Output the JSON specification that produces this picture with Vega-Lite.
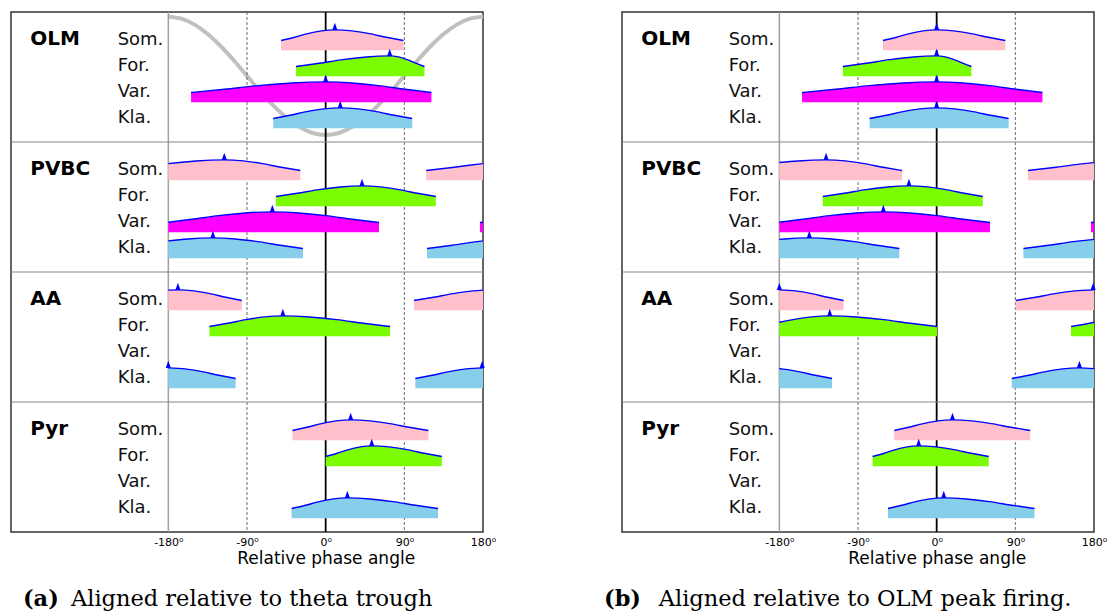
{
  "$schema": "https://vega.github.io/schema/vega-lite/v6.json",
  "padding": {"left": 9, "top": 7, "right": 0, "bottom": 0},
  "background": "white",
  "spacing": 139,
  "bounds": "flush",
  "config": {"view": {"stroke": "#333333", "strokeWidth": 1.5}, "font": "DejaVu Sans"},
  "datasets": {
    "one": [{}],
    "labels": [
      {"cell": "OLM", "sub": "Som."}, {"cell": "OLM", "sub": "For."}, {"cell": "OLM", "sub": "Var."}, {"cell": "OLM", "sub": "Kla."},
      {"cell": "PVBC", "sub": "Som."}, {"cell": "PVBC", "sub": "For."}, {"cell": "PVBC", "sub": "Var."}, {"cell": "PVBC", "sub": "Kla."},
      {"cell": "AA", "sub": "Som."}, {"cell": "AA", "sub": "For."}, {"cell": "AA", "sub": "Var."}, {"cell": "AA", "sub": "Kla."},
      {"cell": "Pyr", "sub": "Som."}, {"cell": "Pyr", "sub": "For."}, {"cell": "Pyr", "sub": "Var."}, {"cell": "Pyr", "sub": "Kla."}
    ],
    "theta": [
      {"angle": -180, "lfp": 1}, {"angle": -165, "lfp": 0.966}, {"angle": -150, "lfp": 0.866}, {"angle": -135, "lfp": 0.707},
      {"angle": -120, "lfp": 0.5}, {"angle": -105, "lfp": 0.259}, {"angle": -90, "lfp": 0}, {"angle": -75, "lfp": -0.259},
      {"angle": -60, "lfp": -0.5}, {"angle": -45, "lfp": -0.707}, {"angle": -30, "lfp": -0.866}, {"angle": -15, "lfp": -0.966},
      {"angle": 0, "lfp": -1}, {"angle": 15, "lfp": -0.966}, {"angle": 30, "lfp": -0.866}, {"angle": 45, "lfp": -0.707},
      {"angle": 60, "lfp": -0.5}, {"angle": 75, "lfp": -0.259}, {"angle": 90, "lfp": 0}, {"angle": 105, "lfp": 0.259},
      {"angle": 120, "lfp": 0.5}, {"angle": 135, "lfp": 0.707}, {"angle": 150, "lfp": 0.866}, {"angle": 165, "lfp": 0.966},
      {"angle": 180, "lfp": 1}
    ],
    "peaks": [
      {"panel": "a", "cell": "OLM", "sub": "Som.", "angle": 10.5, "rate": 0.781},
      {"panel": "a", "cell": "OLM", "sub": "For.", "angle": 73.3, "rate": 0.781},
      {"panel": "a", "cell": "OLM", "sub": "Var.", "angle": 0, "rate": 0.781},
      {"panel": "a", "cell": "OLM", "sub": "Kla.", "angle": 16.7, "rate": 0.781},
      {"panel": "a", "cell": "PVBC", "sub": "Som.", "angle": -116, "rate": 0.781},
      {"panel": "a", "cell": "PVBC", "sub": "For.", "angle": 41.6, "rate": 0.781},
      {"panel": "a", "cell": "PVBC", "sub": "Var.", "angle": -61, "rate": 0.781},
      {"panel": "a", "cell": "PVBC", "sub": "Kla.", "angle": -129, "rate": 0.781},
      {"panel": "a", "cell": "AA", "sub": "Som.", "angle": -169, "rate": 0.781},
      {"panel": "a", "cell": "AA", "sub": "For.", "angle": -49, "rate": 0.781},
      {"panel": "a", "cell": "AA", "sub": "Kla.", "angle": -180, "rate": 0.781},
      {"panel": "a", "cell": "AA", "sub": "Kla.", "angle": 179, "rate": 0.781},
      {"panel": "a", "cell": "Pyr", "sub": "Som.", "angle": 28.6, "rate": 0.781},
      {"panel": "a", "cell": "Pyr", "sub": "For.", "angle": 52.7, "rate": 0.781},
      {"panel": "a", "cell": "Pyr", "sub": "Kla.", "angle": 24.8, "rate": 0.781},
      {"panel": "b", "cell": "OLM", "sub": "Som.", "angle": 0, "rate": 0.781},
      {"panel": "b", "cell": "OLM", "sub": "For.", "angle": 0, "rate": 0.781},
      {"panel": "b", "cell": "OLM", "sub": "Var.", "angle": 0, "rate": 0.781},
      {"panel": "b", "cell": "OLM", "sub": "Kla.", "angle": 0, "rate": 0.781},
      {"panel": "b", "cell": "PVBC", "sub": "Som.", "angle": -126.5, "rate": 0.781},
      {"panel": "b", "cell": "PVBC", "sub": "For.", "angle": -31.7, "rate": 0.781},
      {"panel": "b", "cell": "PVBC", "sub": "Var.", "angle": -61, "rate": 0.781},
      {"panel": "b", "cell": "PVBC", "sub": "Kla.", "angle": -145.7, "rate": 0.781},
      {"panel": "b", "cell": "AA", "sub": "Som.", "angle": -180, "rate": 0.781},
      {"panel": "b", "cell": "AA", "sub": "Som.", "angle": 179, "rate": 0.781},
      {"panel": "b", "cell": "AA", "sub": "For.", "angle": -122.3, "rate": 0.781},
      {"panel": "b", "cell": "AA", "sub": "Kla.", "angle": 163.3, "rate": 0.781},
      {"panel": "b", "cell": "Pyr", "sub": "Som.", "angle": 18.1, "rate": 0.781},
      {"panel": "b", "cell": "Pyr", "sub": "For.", "angle": -20.6, "rate": 0.781},
      {"panel": "b", "cell": "Pyr", "sub": "Kla.", "angle": 8.1, "rate": 0.781}
    ],
    "curves": [
      {"panel": "a", "cell": "OLM", "sub": "Som.", "seg": 1, "angle": -51, "rate": 0.373},
      {"panel": "a", "cell": "OLM", "sub": "Som.", "seg": 1, "angle": -35.6, "rate": 0.5},
      {"panel": "a", "cell": "OLM", "sub": "Som.", "seg": 1, "angle": -20.3, "rate": 0.638},
      {"panel": "a", "cell": "OLM", "sub": "Som.", "seg": 1, "angle": -4.9, "rate": 0.742},
      {"panel": "a", "cell": "OLM", "sub": "Som.", "seg": 1, "angle": 10.5, "rate": 0.781},
      {"panel": "a", "cell": "OLM", "sub": "Som.", "seg": 1, "angle": 30.1, "rate": 0.742},
      {"panel": "a", "cell": "OLM", "sub": "Som.", "seg": 1, "angle": 49.8, "rate": 0.638},
      {"panel": "a", "cell": "OLM", "sub": "Som.", "seg": 1, "angle": 69.4, "rate": 0.5},
      {"panel": "a", "cell": "OLM", "sub": "Som.", "seg": 1, "angle": 89, "rate": 0.373},
      {"panel": "a", "cell": "OLM", "sub": "For.", "seg": 1, "angle": -34, "rate": 0.373},
      {"panel": "a", "cell": "OLM", "sub": "For.", "seg": 1, "angle": -7.2, "rate": 0.5},
      {"panel": "a", "cell": "OLM", "sub": "For.", "seg": 1, "angle": 19.7, "rate": 0.638},
      {"panel": "a", "cell": "OLM", "sub": "For.", "seg": 1, "angle": 46.5, "rate": 0.742},
      {"panel": "a", "cell": "OLM", "sub": "For.", "seg": 1, "angle": 73.3, "rate": 0.781},
      {"panel": "a", "cell": "OLM", "sub": "For.", "seg": 1, "angle": 83.2, "rate": 0.742},
      {"panel": "a", "cell": "OLM", "sub": "For.", "seg": 1, "angle": 93.2, "rate": 0.638},
      {"panel": "a", "cell": "OLM", "sub": "For.", "seg": 1, "angle": 103.1, "rate": 0.5},
      {"panel": "a", "cell": "OLM", "sub": "For.", "seg": 1, "angle": 113, "rate": 0.373},
      {"panel": "a", "cell": "OLM", "sub": "Var.", "seg": 1, "angle": -154, "rate": 0.373},
      {"panel": "a", "cell": "OLM", "sub": "Var.", "seg": 1, "angle": -115.5, "rate": 0.5},
      {"panel": "a", "cell": "OLM", "sub": "Var.", "seg": 1, "angle": -77, "rate": 0.638},
      {"panel": "a", "cell": "OLM", "sub": "Var.", "seg": 1, "angle": -38.5, "rate": 0.742},
      {"panel": "a", "cell": "OLM", "sub": "Var.", "seg": 1, "angle": 0, "rate": 0.781},
      {"panel": "a", "cell": "OLM", "sub": "Var.", "seg": 1, "angle": 30.3, "rate": 0.742},
      {"panel": "a", "cell": "OLM", "sub": "Var.", "seg": 1, "angle": 60.5, "rate": 0.638},
      {"panel": "a", "cell": "OLM", "sub": "Var.", "seg": 1, "angle": 90.8, "rate": 0.5},
      {"panel": "a", "cell": "OLM", "sub": "Var.", "seg": 1, "angle": 121, "rate": 0.373},
      {"panel": "a", "cell": "OLM", "sub": "Kla.", "seg": 1, "angle": -60, "rate": 0.373},
      {"panel": "a", "cell": "OLM", "sub": "Kla.", "seg": 1, "angle": -40.8, "rate": 0.5},
      {"panel": "a", "cell": "OLM", "sub": "Kla.", "seg": 1, "angle": -21.7, "rate": 0.638},
      {"panel": "a", "cell": "OLM", "sub": "Kla.", "seg": 1, "angle": -2.5, "rate": 0.742},
      {"panel": "a", "cell": "OLM", "sub": "Kla.", "seg": 1, "angle": 16.7, "rate": 0.781},
      {"panel": "a", "cell": "OLM", "sub": "Kla.", "seg": 1, "angle": 37.3, "rate": 0.742},
      {"panel": "a", "cell": "OLM", "sub": "Kla.", "seg": 1, "angle": 57.9, "rate": 0.638},
      {"panel": "a", "cell": "OLM", "sub": "Kla.", "seg": 1, "angle": 78.4, "rate": 0.5},
      {"panel": "a", "cell": "OLM", "sub": "Kla.", "seg": 1, "angle": 99, "rate": 0.373},
      {"panel": "a", "cell": "PVBC", "sub": "Som.", "seg": 2, "angle": 115, "rate": 0.373},
      {"panel": "a", "cell": "PVBC", "sub": "Som.", "seg": 2, "angle": 147.3, "rate": 0.5},
      {"panel": "a", "cell": "PVBC", "sub": "Som.", "seg": 2, "angle": 179.5, "rate": 0.638},
      {"panel": "a", "cell": "PVBC", "sub": "Som.", "seg": 2, "angle": 180, "rate": 0.64},
      {"panel": "a", "cell": "PVBC", "sub": "Som.", "seg": 1, "angle": -180, "rate": 0.64},
      {"panel": "a", "cell": "PVBC", "sub": "Som.", "seg": 1, "angle": -148.3, "rate": 0.742},
      {"panel": "a", "cell": "PVBC", "sub": "Som.", "seg": 1, "angle": -116, "rate": 0.781},
      {"panel": "a", "cell": "PVBC", "sub": "Som.", "seg": 1, "angle": -94.3, "rate": 0.742},
      {"panel": "a", "cell": "PVBC", "sub": "Som.", "seg": 1, "angle": -72.5, "rate": 0.638},
      {"panel": "a", "cell": "PVBC", "sub": "Som.", "seg": 1, "angle": -50.8, "rate": 0.5},
      {"panel": "a", "cell": "PVBC", "sub": "Som.", "seg": 1, "angle": -29, "rate": 0.373},
      {"panel": "a", "cell": "PVBC", "sub": "For.", "seg": 1, "angle": -57, "rate": 0.373},
      {"panel": "a", "cell": "PVBC", "sub": "For.", "seg": 1, "angle": -32.4, "rate": 0.5},
      {"panel": "a", "cell": "PVBC", "sub": "For.", "seg": 1, "angle": -7.7, "rate": 0.638},
      {"panel": "a", "cell": "PVBC", "sub": "For.", "seg": 1, "angle": 17, "rate": 0.742},
      {"panel": "a", "cell": "PVBC", "sub": "For.", "seg": 1, "angle": 41.6, "rate": 0.781},
      {"panel": "a", "cell": "PVBC", "sub": "For.", "seg": 1, "angle": 62.7, "rate": 0.742},
      {"panel": "a", "cell": "PVBC", "sub": "For.", "seg": 1, "angle": 83.8, "rate": 0.638},
      {"panel": "a", "cell": "PVBC", "sub": "For.", "seg": 1, "angle": 104.9, "rate": 0.5},
      {"panel": "a", "cell": "PVBC", "sub": "For.", "seg": 1, "angle": 126, "rate": 0.373},
      {"panel": "a", "cell": "PVBC", "sub": "Var.", "seg": 2, "angle": 176.5, "rate": 0.373},
      {"panel": "a", "cell": "PVBC", "sub": "Var.", "seg": 2, "angle": 180, "rate": 0.386},
      {"panel": "a", "cell": "PVBC", "sub": "Var.", "seg": 1, "angle": -180, "rate": 0.386},
      {"panel": "a", "cell": "PVBC", "sub": "Var.", "seg": 1, "angle": -152.9, "rate": 0.5},
      {"panel": "a", "cell": "PVBC", "sub": "Var.", "seg": 1, "angle": -122.3, "rate": 0.638},
      {"panel": "a", "cell": "PVBC", "sub": "Var.", "seg": 1, "angle": -91.6, "rate": 0.742},
      {"panel": "a", "cell": "PVBC", "sub": "Var.", "seg": 1, "angle": -61, "rate": 0.781},
      {"panel": "a", "cell": "PVBC", "sub": "Var.", "seg": 1, "angle": -30.5, "rate": 0.742},
      {"panel": "a", "cell": "PVBC", "sub": "Var.", "seg": 1, "angle": 0, "rate": 0.638},
      {"panel": "a", "cell": "PVBC", "sub": "Var.", "seg": 1, "angle": 30.5, "rate": 0.5},
      {"panel": "a", "cell": "PVBC", "sub": "Var.", "seg": 1, "angle": 61, "rate": 0.373},
      {"panel": "a", "cell": "PVBC", "sub": "Kla.", "seg": 2, "angle": 116, "rate": 0.373},
      {"panel": "a", "cell": "PVBC", "sub": "Kla.", "seg": 2, "angle": 144.8, "rate": 0.5},
      {"panel": "a", "cell": "PVBC", "sub": "Kla.", "seg": 2, "angle": 173.5, "rate": 0.638},
      {"panel": "a", "cell": "PVBC", "sub": "Kla.", "seg": 2, "angle": 180, "rate": 0.666},
      {"panel": "a", "cell": "PVBC", "sub": "Kla.", "seg": 1, "angle": -180, "rate": 0.666},
      {"panel": "a", "cell": "PVBC", "sub": "Kla.", "seg": 1, "angle": -157.8, "rate": 0.742},
      {"panel": "a", "cell": "PVBC", "sub": "Kla.", "seg": 1, "angle": -129, "rate": 0.781},
      {"panel": "a", "cell": "PVBC", "sub": "Kla.", "seg": 1, "angle": -103.3, "rate": 0.742},
      {"panel": "a", "cell": "PVBC", "sub": "Kla.", "seg": 1, "angle": -77.5, "rate": 0.638},
      {"panel": "a", "cell": "PVBC", "sub": "Kla.", "seg": 1, "angle": -51.8, "rate": 0.5},
      {"panel": "a", "cell": "PVBC", "sub": "Kla.", "seg": 1, "angle": -26, "rate": 0.373},
      {"panel": "a", "cell": "AA", "sub": "Som.", "seg": 2, "angle": 101, "rate": 0.373},
      {"panel": "a", "cell": "AA", "sub": "Som.", "seg": 2, "angle": 123.5, "rate": 0.5},
      {"panel": "a", "cell": "AA", "sub": "Som.", "seg": 2, "angle": 146, "rate": 0.638},
      {"panel": "a", "cell": "AA", "sub": "Som.", "seg": 2, "angle": 168.5, "rate": 0.742},
      {"panel": "a", "cell": "AA", "sub": "Som.", "seg": 2, "angle": 180, "rate": 0.772},
      {"panel": "a", "cell": "AA", "sub": "Som.", "seg": 1, "angle": -180, "rate": 0.772},
      {"panel": "a", "cell": "AA", "sub": "Som.", "seg": 1, "angle": -169, "rate": 0.781},
      {"panel": "a", "cell": "AA", "sub": "Som.", "seg": 1, "angle": -150.8, "rate": 0.742},
      {"panel": "a", "cell": "AA", "sub": "Som.", "seg": 1, "angle": -132.5, "rate": 0.638},
      {"panel": "a", "cell": "AA", "sub": "Som.", "seg": 1, "angle": -114.3, "rate": 0.5},
      {"panel": "a", "cell": "AA", "sub": "Som.", "seg": 1, "angle": -96, "rate": 0.373},
      {"panel": "a", "cell": "AA", "sub": "For.", "seg": 1, "angle": -133, "rate": 0.373},
      {"panel": "a", "cell": "AA", "sub": "For.", "seg": 1, "angle": -112, "rate": 0.5},
      {"panel": "a", "cell": "AA", "sub": "For.", "seg": 1, "angle": -91, "rate": 0.638},
      {"panel": "a", "cell": "AA", "sub": "For.", "seg": 1, "angle": -70, "rate": 0.742},
      {"panel": "a", "cell": "AA", "sub": "For.", "seg": 1, "angle": -49, "rate": 0.781},
      {"panel": "a", "cell": "AA", "sub": "For.", "seg": 1, "angle": -18.3, "rate": 0.742},
      {"panel": "a", "cell": "AA", "sub": "For.", "seg": 1, "angle": 12.4, "rate": 0.638},
      {"panel": "a", "cell": "AA", "sub": "For.", "seg": 1, "angle": 43, "rate": 0.5},
      {"panel": "a", "cell": "AA", "sub": "For.", "seg": 1, "angle": 73.7, "rate": 0.373},
      {"panel": "a", "cell": "AA", "sub": "Kla.", "seg": 2, "angle": 102.6, "rate": 0.373},
      {"panel": "a", "cell": "AA", "sub": "Kla.", "seg": 2, "angle": 122, "rate": 0.5},
      {"panel": "a", "cell": "AA", "sub": "Kla.", "seg": 2, "angle": 141.3, "rate": 0.638},
      {"panel": "a", "cell": "AA", "sub": "Kla.", "seg": 2, "angle": 160.7, "rate": 0.742},
      {"panel": "a", "cell": "AA", "sub": "Kla.", "seg": 2, "angle": 180, "rate": 0.781},
      {"panel": "a", "cell": "AA", "sub": "Kla.", "seg": 1, "angle": -180, "rate": 0.781},
      {"panel": "a", "cell": "AA", "sub": "Kla.", "seg": 1, "angle": -160.8, "rate": 0.742},
      {"panel": "a", "cell": "AA", "sub": "Kla.", "seg": 1, "angle": -141.5, "rate": 0.638},
      {"panel": "a", "cell": "AA", "sub": "Kla.", "seg": 1, "angle": -122.3, "rate": 0.5},
      {"panel": "a", "cell": "AA", "sub": "Kla.", "seg": 1, "angle": -103, "rate": 0.373},
      {"panel": "a", "cell": "Pyr", "sub": "Som.", "seg": 1, "angle": -38, "rate": 0.373},
      {"panel": "a", "cell": "Pyr", "sub": "Som.", "seg": 1, "angle": -21.4, "rate": 0.5},
      {"panel": "a", "cell": "Pyr", "sub": "Som.", "seg": 1, "angle": -4.7, "rate": 0.638},
      {"panel": "a", "cell": "Pyr", "sub": "Som.", "seg": 1, "angle": 11.9, "rate": 0.742},
      {"panel": "a", "cell": "Pyr", "sub": "Som.", "seg": 1, "angle": 28.6, "rate": 0.781},
      {"panel": "a", "cell": "Pyr", "sub": "Som.", "seg": 1, "angle": 50.8, "rate": 0.742},
      {"panel": "a", "cell": "Pyr", "sub": "Som.", "seg": 1, "angle": 73.1, "rate": 0.638},
      {"panel": "a", "cell": "Pyr", "sub": "Som.", "seg": 1, "angle": 95.3, "rate": 0.5},
      {"panel": "a", "cell": "Pyr", "sub": "Som.", "seg": 1, "angle": 117.5, "rate": 0.373},
      {"panel": "a", "cell": "Pyr", "sub": "For.", "seg": 1, "angle": 0, "rate": 0.373},
      {"panel": "a", "cell": "Pyr", "sub": "For.", "seg": 1, "angle": 13.2, "rate": 0.5},
      {"panel": "a", "cell": "Pyr", "sub": "For.", "seg": 1, "angle": 26.4, "rate": 0.638},
      {"panel": "a", "cell": "Pyr", "sub": "For.", "seg": 1, "angle": 39.5, "rate": 0.742},
      {"panel": "a", "cell": "Pyr", "sub": "For.", "seg": 1, "angle": 52.7, "rate": 0.781},
      {"panel": "a", "cell": "Pyr", "sub": "For.", "seg": 1, "angle": 72.7, "rate": 0.742},
      {"panel": "a", "cell": "Pyr", "sub": "For.", "seg": 1, "angle": 92.8, "rate": 0.638},
      {"panel": "a", "cell": "Pyr", "sub": "For.", "seg": 1, "angle": 112.8, "rate": 0.5},
      {"panel": "a", "cell": "Pyr", "sub": "For.", "seg": 1, "angle": 132.8, "rate": 0.373},
      {"panel": "a", "cell": "Pyr", "sub": "Kla.", "seg": 1, "angle": -39, "rate": 0.373},
      {"panel": "a", "cell": "Pyr", "sub": "Kla.", "seg": 1, "angle": -23.1, "rate": 0.5},
      {"panel": "a", "cell": "Pyr", "sub": "Kla.", "seg": 1, "angle": -7.2, "rate": 0.638},
      {"panel": "a", "cell": "Pyr", "sub": "Kla.", "seg": 1, "angle": 8.8, "rate": 0.742},
      {"panel": "a", "cell": "Pyr", "sub": "Kla.", "seg": 1, "angle": 24.8, "rate": 0.781},
      {"panel": "a", "cell": "Pyr", "sub": "Kla.", "seg": 1, "angle": 50.8, "rate": 0.742},
      {"panel": "a", "cell": "Pyr", "sub": "Kla.", "seg": 1, "angle": 76.7, "rate": 0.638},
      {"panel": "a", "cell": "Pyr", "sub": "Kla.", "seg": 1, "angle": 102.7, "rate": 0.5},
      {"panel": "a", "cell": "Pyr", "sub": "Kla.", "seg": 1, "angle": 128.6, "rate": 0.373},
      {"panel": "b", "cell": "OLM", "sub": "Som.", "seg": 1, "angle": -61.5, "rate": 0.373},
      {"panel": "b", "cell": "OLM", "sub": "Som.", "seg": 1, "angle": -46.1, "rate": 0.5},
      {"panel": "b", "cell": "OLM", "sub": "Som.", "seg": 1, "angle": -30.8, "rate": 0.638},
      {"panel": "b", "cell": "OLM", "sub": "Som.", "seg": 1, "angle": -15.4, "rate": 0.742},
      {"panel": "b", "cell": "OLM", "sub": "Som.", "seg": 1, "angle": 0, "rate": 0.781},
      {"panel": "b", "cell": "OLM", "sub": "Som.", "seg": 1, "angle": 19.6, "rate": 0.742},
      {"panel": "b", "cell": "OLM", "sub": "Som.", "seg": 1, "angle": 39.3, "rate": 0.638},
      {"panel": "b", "cell": "OLM", "sub": "Som.", "seg": 1, "angle": 58.9, "rate": 0.5},
      {"panel": "b", "cell": "OLM", "sub": "Som.", "seg": 1, "angle": 78.5, "rate": 0.373},
      {"panel": "b", "cell": "OLM", "sub": "For.", "seg": 1, "angle": -107.3, "rate": 0.373},
      {"panel": "b", "cell": "OLM", "sub": "For.", "seg": 1, "angle": -80.5, "rate": 0.5},
      {"panel": "b", "cell": "OLM", "sub": "For.", "seg": 1, "angle": -53.7, "rate": 0.638},
      {"panel": "b", "cell": "OLM", "sub": "For.", "seg": 1, "angle": -26.8, "rate": 0.742},
      {"panel": "b", "cell": "OLM", "sub": "For.", "seg": 1, "angle": 0, "rate": 0.781},
      {"panel": "b", "cell": "OLM", "sub": "For.", "seg": 1, "angle": 9.9, "rate": 0.742},
      {"panel": "b", "cell": "OLM", "sub": "For.", "seg": 1, "angle": 19.9, "rate": 0.638},
      {"panel": "b", "cell": "OLM", "sub": "For.", "seg": 1, "angle": 29.8, "rate": 0.5},
      {"panel": "b", "cell": "OLM", "sub": "For.", "seg": 1, "angle": 39.7, "rate": 0.373},
      {"panel": "b", "cell": "OLM", "sub": "Var.", "seg": 1, "angle": -154, "rate": 0.373},
      {"panel": "b", "cell": "OLM", "sub": "Var.", "seg": 1, "angle": -115.5, "rate": 0.5},
      {"panel": "b", "cell": "OLM", "sub": "Var.", "seg": 1, "angle": -77, "rate": 0.638},
      {"panel": "b", "cell": "OLM", "sub": "Var.", "seg": 1, "angle": -38.5, "rate": 0.742},
      {"panel": "b", "cell": "OLM", "sub": "Var.", "seg": 1, "angle": 0, "rate": 0.781},
      {"panel": "b", "cell": "OLM", "sub": "Var.", "seg": 1, "angle": 30.3, "rate": 0.742},
      {"panel": "b", "cell": "OLM", "sub": "Var.", "seg": 1, "angle": 60.5, "rate": 0.638},
      {"panel": "b", "cell": "OLM", "sub": "Var.", "seg": 1, "angle": 90.8, "rate": 0.5},
      {"panel": "b", "cell": "OLM", "sub": "Var.", "seg": 1, "angle": 121, "rate": 0.373},
      {"panel": "b", "cell": "OLM", "sub": "Kla.", "seg": 1, "angle": -76.7, "rate": 0.373},
      {"panel": "b", "cell": "OLM", "sub": "Kla.", "seg": 1, "angle": -57.5, "rate": 0.5},
      {"panel": "b", "cell": "OLM", "sub": "Kla.", "seg": 1, "angle": -38.4, "rate": 0.638},
      {"panel": "b", "cell": "OLM", "sub": "Kla.", "seg": 1, "angle": -19.2, "rate": 0.742},
      {"panel": "b", "cell": "OLM", "sub": "Kla.", "seg": 1, "angle": 0, "rate": 0.781},
      {"panel": "b", "cell": "OLM", "sub": "Kla.", "seg": 1, "angle": 20.6, "rate": 0.742},
      {"panel": "b", "cell": "OLM", "sub": "Kla.", "seg": 1, "angle": 41.2, "rate": 0.638},
      {"panel": "b", "cell": "OLM", "sub": "Kla.", "seg": 1, "angle": 61.7, "rate": 0.5},
      {"panel": "b", "cell": "OLM", "sub": "Kla.", "seg": 1, "angle": 82.3, "rate": 0.373},
      {"panel": "b", "cell": "PVBC", "sub": "Som.", "seg": 2, "angle": 104.5, "rate": 0.373},
      {"panel": "b", "cell": "PVBC", "sub": "Som.", "seg": 2, "angle": 136.8, "rate": 0.5},
      {"panel": "b", "cell": "PVBC", "sub": "Som.", "seg": 2, "angle": 169, "rate": 0.638},
      {"panel": "b", "cell": "PVBC", "sub": "Som.", "seg": 2, "angle": 180, "rate": 0.679},
      {"panel": "b", "cell": "PVBC", "sub": "Som.", "seg": 1, "angle": -180, "rate": 0.679},
      {"panel": "b", "cell": "PVBC", "sub": "Som.", "seg": 1, "angle": -158.8, "rate": 0.742},
      {"panel": "b", "cell": "PVBC", "sub": "Som.", "seg": 1, "angle": -126.5, "rate": 0.781},
      {"panel": "b", "cell": "PVBC", "sub": "Som.", "seg": 1, "angle": -104.8, "rate": 0.742},
      {"panel": "b", "cell": "PVBC", "sub": "Som.", "seg": 1, "angle": -83, "rate": 0.638},
      {"panel": "b", "cell": "PVBC", "sub": "Som.", "seg": 1, "angle": -61.3, "rate": 0.5},
      {"panel": "b", "cell": "PVBC", "sub": "Som.", "seg": 1, "angle": -39.5, "rate": 0.373},
      {"panel": "b", "cell": "PVBC", "sub": "For.", "seg": 1, "angle": -130.3, "rate": 0.373},
      {"panel": "b", "cell": "PVBC", "sub": "For.", "seg": 1, "angle": -105.7, "rate": 0.5},
      {"panel": "b", "cell": "PVBC", "sub": "For.", "seg": 1, "angle": -81, "rate": 0.638},
      {"panel": "b", "cell": "PVBC", "sub": "For.", "seg": 1, "angle": -56.4, "rate": 0.742},
      {"panel": "b", "cell": "PVBC", "sub": "For.", "seg": 1, "angle": -31.7, "rate": 0.781},
      {"panel": "b", "cell": "PVBC", "sub": "For.", "seg": 1, "angle": -10.6, "rate": 0.742},
      {"panel": "b", "cell": "PVBC", "sub": "For.", "seg": 1, "angle": 10.5, "rate": 0.638},
      {"panel": "b", "cell": "PVBC", "sub": "For.", "seg": 1, "angle": 31.6, "rate": 0.5},
      {"panel": "b", "cell": "PVBC", "sub": "For.", "seg": 1, "angle": 52.7, "rate": 0.373},
      {"panel": "b", "cell": "PVBC", "sub": "Var.", "seg": 2, "angle": 176.5, "rate": 0.373},
      {"panel": "b", "cell": "PVBC", "sub": "Var.", "seg": 2, "angle": 180, "rate": 0.386},
      {"panel": "b", "cell": "PVBC", "sub": "Var.", "seg": 1, "angle": -180, "rate": 0.386},
      {"panel": "b", "cell": "PVBC", "sub": "Var.", "seg": 1, "angle": -152.9, "rate": 0.5},
      {"panel": "b", "cell": "PVBC", "sub": "Var.", "seg": 1, "angle": -122.3, "rate": 0.638},
      {"panel": "b", "cell": "PVBC", "sub": "Var.", "seg": 1, "angle": -91.6, "rate": 0.742},
      {"panel": "b", "cell": "PVBC", "sub": "Var.", "seg": 1, "angle": -61, "rate": 0.781},
      {"panel": "b", "cell": "PVBC", "sub": "Var.", "seg": 1, "angle": -30.5, "rate": 0.742},
      {"panel": "b", "cell": "PVBC", "sub": "Var.", "seg": 1, "angle": 0, "rate": 0.638},
      {"panel": "b", "cell": "PVBC", "sub": "Var.", "seg": 1, "angle": 30.5, "rate": 0.5},
      {"panel": "b", "cell": "PVBC", "sub": "Var.", "seg": 1, "angle": 61, "rate": 0.373},
      {"panel": "b", "cell": "PVBC", "sub": "Kla.", "seg": 2, "angle": 99.3, "rate": 0.373},
      {"panel": "b", "cell": "PVBC", "sub": "Kla.", "seg": 2, "angle": 128.1, "rate": 0.5},
      {"panel": "b", "cell": "PVBC", "sub": "Kla.", "seg": 2, "angle": 156.8, "rate": 0.638},
      {"panel": "b", "cell": "PVBC", "sub": "Kla.", "seg": 2, "angle": 180, "rate": 0.726},
      {"panel": "b", "cell": "PVBC", "sub": "Kla.", "seg": 1, "angle": -180, "rate": 0.726},
      {"panel": "b", "cell": "PVBC", "sub": "Kla.", "seg": 1, "angle": -174.5, "rate": 0.742},
      {"panel": "b", "cell": "PVBC", "sub": "Kla.", "seg": 1, "angle": -145.7, "rate": 0.781},
      {"panel": "b", "cell": "PVBC", "sub": "Kla.", "seg": 1, "angle": -120, "rate": 0.742},
      {"panel": "b", "cell": "PVBC", "sub": "Kla.", "seg": 1, "angle": -94.2, "rate": 0.638},
      {"panel": "b", "cell": "PVBC", "sub": "Kla.", "seg": 1, "angle": -68.5, "rate": 0.5},
      {"panel": "b", "cell": "PVBC", "sub": "Kla.", "seg": 1, "angle": -42.7, "rate": 0.373},
      {"panel": "b", "cell": "AA", "sub": "Som.", "seg": 2, "angle": 90.5, "rate": 0.373},
      {"panel": "b", "cell": "AA", "sub": "Som.", "seg": 2, "angle": 113, "rate": 0.5},
      {"panel": "b", "cell": "AA", "sub": "Som.", "seg": 2, "angle": 135.5, "rate": 0.638},
      {"panel": "b", "cell": "AA", "sub": "Som.", "seg": 2, "angle": 158, "rate": 0.742},
      {"panel": "b", "cell": "AA", "sub": "Som.", "seg": 2, "angle": 180, "rate": 0.781},
      {"panel": "b", "cell": "AA", "sub": "Som.", "seg": 1, "angle": -180, "rate": 0.781},
      {"panel": "b", "cell": "AA", "sub": "Som.", "seg": 1, "angle": -161.3, "rate": 0.742},
      {"panel": "b", "cell": "AA", "sub": "Som.", "seg": 1, "angle": -143, "rate": 0.638},
      {"panel": "b", "cell": "AA", "sub": "Som.", "seg": 1, "angle": -124.8, "rate": 0.5},
      {"panel": "b", "cell": "AA", "sub": "Som.", "seg": 1, "angle": -106.5, "rate": 0.373},
      {"panel": "b", "cell": "AA", "sub": "For.", "seg": 2, "angle": 153.7, "rate": 0.373},
      {"panel": "b", "cell": "AA", "sub": "For.", "seg": 2, "angle": 174.7, "rate": 0.5},
      {"panel": "b", "cell": "AA", "sub": "For.", "seg": 2, "angle": 180, "rate": 0.536},
      {"panel": "b", "cell": "AA", "sub": "For.", "seg": 1, "angle": -180, "rate": 0.536},
      {"panel": "b", "cell": "AA", "sub": "For.", "seg": 1, "angle": -164.3, "rate": 0.638},
      {"panel": "b", "cell": "AA", "sub": "For.", "seg": 1, "angle": -143.3, "rate": 0.742},
      {"panel": "b", "cell": "AA", "sub": "For.", "seg": 1, "angle": -122.3, "rate": 0.781},
      {"panel": "b", "cell": "AA", "sub": "For.", "seg": 1, "angle": -91.6, "rate": 0.742},
      {"panel": "b", "cell": "AA", "sub": "For.", "seg": 1, "angle": -60.9, "rate": 0.638},
      {"panel": "b", "cell": "AA", "sub": "For.", "seg": 1, "angle": -30.3, "rate": 0.5},
      {"panel": "b", "cell": "AA", "sub": "For.", "seg": 1, "angle": 0.4, "rate": 0.373},
      {"panel": "b", "cell": "AA", "sub": "Kla.", "seg": 2, "angle": 85.9, "rate": 0.373},
      {"panel": "b", "cell": "AA", "sub": "Kla.", "seg": 2, "angle": 105.3, "rate": 0.5},
      {"panel": "b", "cell": "AA", "sub": "Kla.", "seg": 2, "angle": 124.6, "rate": 0.638},
      {"panel": "b", "cell": "AA", "sub": "Kla.", "seg": 2, "angle": 144, "rate": 0.742},
      {"panel": "b", "cell": "AA", "sub": "Kla.", "seg": 2, "angle": 163.3, "rate": 0.781},
      {"panel": "b", "cell": "AA", "sub": "Kla.", "seg": 2, "angle": 180, "rate": 0.752},
      {"panel": "b", "cell": "AA", "sub": "Kla.", "seg": 1, "angle": -180, "rate": 0.752},
      {"panel": "b", "cell": "AA", "sub": "Kla.", "seg": 1, "angle": -177.5, "rate": 0.742},
      {"panel": "b", "cell": "AA", "sub": "Kla.", "seg": 1, "angle": -158.2, "rate": 0.638},
      {"panel": "b", "cell": "AA", "sub": "Kla.", "seg": 1, "angle": -139, "rate": 0.5},
      {"panel": "b", "cell": "AA", "sub": "Kla.", "seg": 1, "angle": -119.7, "rate": 0.373},
      {"panel": "b", "cell": "Pyr", "sub": "Som.", "seg": 1, "angle": -48.5, "rate": 0.373},
      {"panel": "b", "cell": "Pyr", "sub": "Som.", "seg": 1, "angle": -31.9, "rate": 0.5},
      {"panel": "b", "cell": "Pyr", "sub": "Som.", "seg": 1, "angle": -15.2, "rate": 0.638},
      {"panel": "b", "cell": "Pyr", "sub": "Som.", "seg": 1, "angle": 1.4, "rate": 0.742},
      {"panel": "b", "cell": "Pyr", "sub": "Som.", "seg": 1, "angle": 18.1, "rate": 0.781},
      {"panel": "b", "cell": "Pyr", "sub": "Som.", "seg": 1, "angle": 40.3, "rate": 0.742},
      {"panel": "b", "cell": "Pyr", "sub": "Som.", "seg": 1, "angle": 62.6, "rate": 0.638},
      {"panel": "b", "cell": "Pyr", "sub": "Som.", "seg": 1, "angle": 84.8, "rate": 0.5},
      {"panel": "b", "cell": "Pyr", "sub": "Som.", "seg": 1, "angle": 107, "rate": 0.373},
      {"panel": "b", "cell": "Pyr", "sub": "For.", "seg": 1, "angle": -73.3, "rate": 0.373},
      {"panel": "b", "cell": "Pyr", "sub": "For.", "seg": 1, "angle": -60.1, "rate": 0.5},
      {"panel": "b", "cell": "Pyr", "sub": "For.", "seg": 1, "angle": -47, "rate": 0.638},
      {"panel": "b", "cell": "Pyr", "sub": "For.", "seg": 1, "angle": -33.8, "rate": 0.742},
      {"panel": "b", "cell": "Pyr", "sub": "For.", "seg": 1, "angle": -20.6, "rate": 0.781},
      {"panel": "b", "cell": "Pyr", "sub": "For.", "seg": 1, "angle": -0.6, "rate": 0.742},
      {"panel": "b", "cell": "Pyr", "sub": "For.", "seg": 1, "angle": 19.5, "rate": 0.638},
      {"panel": "b", "cell": "Pyr", "sub": "For.", "seg": 1, "angle": 39.5, "rate": 0.5},
      {"panel": "b", "cell": "Pyr", "sub": "For.", "seg": 1, "angle": 59.5, "rate": 0.373},
      {"panel": "b", "cell": "Pyr", "sub": "Kla.", "seg": 1, "angle": -55.7, "rate": 0.373},
      {"panel": "b", "cell": "Pyr", "sub": "Kla.", "seg": 1, "angle": -39.8, "rate": 0.5},
      {"panel": "b", "cell": "Pyr", "sub": "Kla.", "seg": 1, "angle": -23.8, "rate": 0.638},
      {"panel": "b", "cell": "Pyr", "sub": "Kla.", "seg": 1, "angle": -7.9, "rate": 0.742},
      {"panel": "b", "cell": "Pyr", "sub": "Kla.", "seg": 1, "angle": 8.1, "rate": 0.781},
      {"panel": "b", "cell": "Pyr", "sub": "Kla.", "seg": 1, "angle": 34.1, "rate": 0.742},
      {"panel": "b", "cell": "Pyr", "sub": "Kla.", "seg": 1, "angle": 60, "rate": 0.638},
      {"panel": "b", "cell": "Pyr", "sub": "Kla.", "seg": 1, "angle": 86, "rate": 0.5},
      {"panel": "b", "cell": "Pyr", "sub": "Kla.", "seg": 1, "angle": 111.9, "rate": 0.373}
    ]
  },
  "hconcat": [
    {
      "width": 472,
      "height": 520,
      "layer": [
        {
          "data": {"name": "curves"},
          "transform": [
            {"filter": "datum.panel == 'a'"},
            {"calculate": "indexof(['OLM','PVBC','AA','Pyr'], datum.cell) * 5 + 1.47 + indexof(['Som.','For.','Var.','Kla.'], datum.sub)", "as": "base"},
            {"calculate": "datum.base - datum.rate", "as": "top"}
          ],
          "mark": {"type": "area", "opacity": 0},
          "encoding": {
            "x": {"field": "angle", "type": "quantitative", "scale": {"domain": [-360, 180], "nice": false, "zero": false},
              "axis": {"values": [-180, -90, 0, 90, 180], "labelExpr": "datum.value + '\u2070'", "title": "Relative phase angle", "orient": "bottom", "grid": false, "ticks": false, "domain": false, "labelFont": "DejaVu Sans", "labelFontSize": 11, "labelColor": "#000000", "labelPadding": 4, "labelFlush": false, "labelOverlap": false, "titleFont": "DejaVu Sans", "titleFontSize": 17, "titleFontWeight": "normal", "titleColor": "#000000", "titlePadding": 3, "titleX": 314.7}},
            "y": {"field": "top", "type": "quantitative", "stack": null, "scale": {"domain": [0, 20], "reverse": true, "nice": false, "zero": false}, "axis": null},
            "y2": {"field": "base"},
            "detail": [{"field": "cell"}, {"field": "sub"}, {"field": "seg"}]
          }
        },
        {
          "data": {"name": "theta"},
          "transform": [{"calculate": "2.455 - 2.275 * datum.lfp", "as": "top"}],
          "mark": {"type": "line", "color": "#c0c0c0", "strokeWidth": 4, "interpolate": "monotone"},
          "encoding": {
            "x": {"field": "angle", "type": "quantitative"},
            "y": {"field": "top", "type": "quantitative", "axis": null}
          }
        },
        {"data": {"name": "one"}, "mark": {"type": "rule", "color": "#a0a0a0", "strokeWidth": 1.5}, "encoding": {"x": {"datum": -180}}},
        {"data": {"name": "one"}, "mark": {"type": "rule", "color": "#444444", "strokeWidth": 0.8, "strokeDash": [3, 2]}, "encoding": {"x": {"datum": -90}}},
        {"data": {"name": "one"}, "mark": {"type": "rule", "color": "#444444", "strokeWidth": 0.8, "strokeDash": [3, 2]}, "encoding": {"x": {"datum": 90}}},
        {"data": {"name": "one"}, "mark": {"type": "rule", "color": "#000000", "strokeWidth": 1.8}, "encoding": {"x": {"datum": 0}}},
        {
          "data": {"name": "labels"},
          "transform": [
            {"filter": "datum.sub == 'Som.' && datum.cell != 'OLM'"},
            {"calculate": "indexof(['OLM','PVBC','AA','Pyr'], datum.cell) * 5", "as": "top"}
          ],
          "mark": {"type": "rule", "color": "#888888", "strokeWidth": 1.2},
          "encoding": {"y": {"field": "top", "type": "quantitative", "axis": null}}
        },
        {
          "data": {"name": "curves"},
          "transform": [
            {"filter": "datum.panel == 'a'"},
            {"calculate": "indexof(['OLM','PVBC','AA','Pyr'], datum.cell) * 5 + 1.47 + indexof(['Som.','For.','Var.','Kla.'], datum.sub)", "as": "base"},
            {"calculate": "datum.base - datum.rate", "as": "top"}
          ],
          "mark": {"type": "area", "interpolate": "monotone", "opacity": 1},
          "encoding": {
            "x": {"field": "angle", "type": "quantitative"},
            "y": {"field": "top", "type": "quantitative", "stack": null, "axis": null},
            "y2": {"field": "base"},
            "color": {"field": "sub", "type": "nominal", "scale": {"domain": ["Som.", "For.", "Var.", "Kla."], "range": ["#FFC0CB", "#7CFC00", "#FF00FF", "#87CEEB"]}, "legend": null},
            "detail": [{"field": "cell"}, {"field": "seg"}]
          }
        },
        {
          "data": {"name": "curves"},
          "transform": [
            {"filter": "datum.panel == 'a'"},
            {"calculate": "indexof(['OLM','PVBC','AA','Pyr'], datum.cell) * 5 + 1.47 + indexof(['Som.','For.','Var.','Kla.'], datum.sub)", "as": "base"},
            {"calculate": "datum.base - datum.rate", "as": "top"}
          ],
          "mark": {"type": "line", "interpolate": "monotone", "color": "#0000FF", "strokeWidth": 1.4},
          "encoding": {
            "x": {"field": "angle", "type": "quantitative"},
            "y": {"field": "top", "type": "quantitative", "axis": null},
            "detail": [{"field": "cell"}, {"field": "sub"}, {"field": "seg"}]
          }
        },
        {
          "data": {"name": "peaks"},
          "transform": [
            {"filter": "datum.panel == 'a'"},
            {"calculate": "indexof(['OLM','PVBC','AA','Pyr'], datum.cell) * 5 + 1.47 + indexof(['Som.','For.','Var.','Kla.'], datum.sub) - datum.rate", "as": "top"}
          ],
          "mark": {"type": "point", "shape": "M-0.85,0L0,-2.35L0.85,0Z", "filled": true, "color": "#0000FF", "size": 36, "opacity": 1, "strokeWidth": 0},
          "encoding": {
            "x": {"field": "angle", "type": "quantitative"},
            "y": {"field": "top", "type": "quantitative", "axis": null}
          }
        },
        {
          "data": {"name": "labels"},
          "transform": [{"calculate": "indexof(['OLM','PVBC','AA','Pyr'], datum.cell) * 5 + 1.47 + indexof(['Som.','For.','Var.','Kla.'], datum.sub)", "as": "base"}],
          "mark": {"type": "text", "align": "left", "baseline": "alphabetic", "dy": -5, "font": "DejaVu Sans", "fontSize": 18, "color": "#111111"},
          "encoding": {
            "x": {"datum": -238},
            "y": {"field": "base", "type": "quantitative", "axis": null},
            "text": {"field": "sub"}
          }
        },
        {
          "data": {"name": "labels"},
          "transform": [
            {"filter": "datum.sub == 'Som.'"},
            {"calculate": "indexof(['OLM','PVBC','AA','Pyr'], datum.cell) * 5 + 1.47", "as": "base"}
          ],
          "mark": {"type": "text", "align": "left", "baseline": "alphabetic", "dy": -5, "font": "DejaVu Sans", "fontSize": 20, "fontWeight": "bold", "color": "#000000"},
          "encoding": {
            "x": {"datum": -338},
            "y": {"field": "base", "type": "quantitative", "axis": null},
            "text": {"field": "cell"}
          }
        },
        {
          "data": {"name": "one"},
          "mark": {"type": "text", "text": "(a)", "align": "left", "baseline": "alphabetic", "font": "DejaVu Serif", "fontSize": 22.5, "fontWeight": "bold", "color": "#000000"},
          "encoding": {"x": {"datum": -346.3}, "y": {"datum": 22.85, "axis": null}}
        },
        {
          "data": {"name": "one"},
          "mark": {"type": "text", "text": "Aligned relative to theta trough", "align": "left", "baseline": "alphabetic", "font": "DejaVu Serif", "fontSize": 22.5, "color": "#000000"},
          "encoding": {"x": {"datum": -291.4}, "y": {"datum": 22.85, "axis": null}}
        }
      ]
    },
    {
      "width": 472,
      "height": 520,
      "layer": [
        {
          "data": {"name": "curves"},
          "transform": [
            {"filter": "datum.panel == 'b'"},
            {"calculate": "indexof(['OLM','PVBC','AA','Pyr'], datum.cell) * 5 + 1.47 + indexof(['Som.','For.','Var.','Kla.'], datum.sub)", "as": "base"},
            {"calculate": "datum.base - datum.rate", "as": "top"}
          ],
          "mark": {"type": "area", "opacity": 0},
          "encoding": {
            "x": {"field": "angle", "type": "quantitative", "scale": {"domain": [-360, 180], "nice": false, "zero": false},
              "axis": {"values": [-180, -90, 0, 90, 180], "labelExpr": "datum.value + '\u2070'", "title": "Relative phase angle", "orient": "bottom", "grid": false, "ticks": false, "domain": false, "labelFont": "DejaVu Sans", "labelFontSize": 11, "labelColor": "#000000", "labelPadding": 4, "labelFlush": false, "labelOverlap": false, "titleFont": "DejaVu Sans", "titleFontSize": 17, "titleFontWeight": "normal", "titleColor": "#000000", "titlePadding": 3, "titleX": 314.7}},
            "y": {"field": "top", "type": "quantitative", "stack": null, "scale": {"domain": [0, 20], "reverse": true, "nice": false, "zero": false}, "axis": null},
            "y2": {"field": "base"},
            "detail": [{"field": "cell"}, {"field": "sub"}, {"field": "seg"}]
          }
        },
        {"data": {"name": "one"}, "mark": {"type": "rule", "color": "#a0a0a0", "strokeWidth": 1.5}, "encoding": {"x": {"datum": -180}}},
        {"data": {"name": "one"}, "mark": {"type": "rule", "color": "#444444", "strokeWidth": 0.8, "strokeDash": [3, 2]}, "encoding": {"x": {"datum": -90}}},
        {"data": {"name": "one"}, "mark": {"type": "rule", "color": "#444444", "strokeWidth": 0.8, "strokeDash": [3, 2]}, "encoding": {"x": {"datum": 90}}},
        {"data": {"name": "one"}, "mark": {"type": "rule", "color": "#000000", "strokeWidth": 1.8}, "encoding": {"x": {"datum": 0}}},
        {
          "data": {"name": "labels"},
          "transform": [
            {"filter": "datum.sub == 'Som.' && datum.cell != 'OLM'"},
            {"calculate": "indexof(['OLM','PVBC','AA','Pyr'], datum.cell) * 5", "as": "top"}
          ],
          "mark": {"type": "rule", "color": "#888888", "strokeWidth": 1.2},
          "encoding": {"y": {"field": "top", "type": "quantitative", "axis": null}}
        },
        {
          "data": {"name": "curves"},
          "transform": [
            {"filter": "datum.panel == 'b'"},
            {"calculate": "indexof(['OLM','PVBC','AA','Pyr'], datum.cell) * 5 + 1.47 + indexof(['Som.','For.','Var.','Kla.'], datum.sub)", "as": "base"},
            {"calculate": "datum.base - datum.rate", "as": "top"}
          ],
          "mark": {"type": "area", "interpolate": "monotone", "opacity": 1},
          "encoding": {
            "x": {"field": "angle", "type": "quantitative"},
            "y": {"field": "top", "type": "quantitative", "stack": null, "axis": null},
            "y2": {"field": "base"},
            "color": {"field": "sub", "type": "nominal", "scale": {"domain": ["Som.", "For.", "Var.", "Kla."], "range": ["#FFC0CB", "#7CFC00", "#FF00FF", "#87CEEB"]}, "legend": null},
            "detail": [{"field": "cell"}, {"field": "seg"}]
          }
        },
        {
          "data": {"name": "curves"},
          "transform": [
            {"filter": "datum.panel == 'b'"},
            {"calculate": "indexof(['OLM','PVBC','AA','Pyr'], datum.cell) * 5 + 1.47 + indexof(['Som.','For.','Var.','Kla.'], datum.sub)", "as": "base"},
            {"calculate": "datum.base - datum.rate", "as": "top"}
          ],
          "mark": {"type": "line", "interpolate": "monotone", "color": "#0000FF", "strokeWidth": 1.4},
          "encoding": {
            "x": {"field": "angle", "type": "quantitative"},
            "y": {"field": "top", "type": "quantitative", "axis": null},
            "detail": [{"field": "cell"}, {"field": "sub"}, {"field": "seg"}]
          }
        },
        {
          "data": {"name": "peaks"},
          "transform": [
            {"filter": "datum.panel == 'b'"},
            {"calculate": "indexof(['OLM','PVBC','AA','Pyr'], datum.cell) * 5 + 1.47 + indexof(['Som.','For.','Var.','Kla.'], datum.sub) - datum.rate", "as": "top"}
          ],
          "mark": {"type": "point", "shape": "M-0.85,0L0,-2.35L0.85,0Z", "filled": true, "color": "#0000FF", "size": 36, "opacity": 1, "strokeWidth": 0},
          "encoding": {
            "x": {"field": "angle", "type": "quantitative"},
            "y": {"field": "top", "type": "quantitative", "axis": null}
          }
        },
        {
          "data": {"name": "labels"},
          "transform": [{"calculate": "indexof(['OLM','PVBC','AA','Pyr'], datum.cell) * 5 + 1.47 + indexof(['Som.','For.','Var.','Kla.'], datum.sub)", "as": "base"}],
          "mark": {"type": "text", "align": "left", "baseline": "alphabetic", "dy": -5, "font": "DejaVu Sans", "fontSize": 18, "color": "#111111"},
          "encoding": {
            "x": {"datum": -238},
            "y": {"field": "base", "type": "quantitative", "axis": null},
            "text": {"field": "sub"}
          }
        },
        {
          "data": {"name": "labels"},
          "transform": [
            {"filter": "datum.sub == 'Som.'"},
            {"calculate": "indexof(['OLM','PVBC','AA','Pyr'], datum.cell) * 5 + 1.47", "as": "base"}
          ],
          "mark": {"type": "text", "align": "left", "baseline": "alphabetic", "dy": -5, "font": "DejaVu Sans", "fontSize": 20, "fontWeight": "bold", "color": "#000000"},
          "encoding": {
            "x": {"datum": -338},
            "y": {"field": "base", "type": "quantitative", "axis": null},
            "text": {"field": "cell"}
          }
        },
        {
          "data": {"name": "one"},
          "mark": {"type": "text", "text": "(b)", "align": "left", "baseline": "alphabetic", "font": "DejaVu Serif", "fontSize": 22.5, "fontWeight": "bold", "color": "#000000"},
          "encoding": {"x": {"datum": -380.6}, "y": {"datum": 22.85, "axis": null}}
        },
        {
          "data": {"name": "one"},
          "mark": {"type": "text", "text": "Aligned relative to OLM peak firing.", "align": "left", "baseline": "alphabetic", "font": "DejaVu Serif", "fontSize": 22.5, "color": "#000000"},
          "encoding": {"x": {"datum": -318}, "y": {"datum": 22.85, "axis": null}}
        }
      ]
    }
  ]
}
